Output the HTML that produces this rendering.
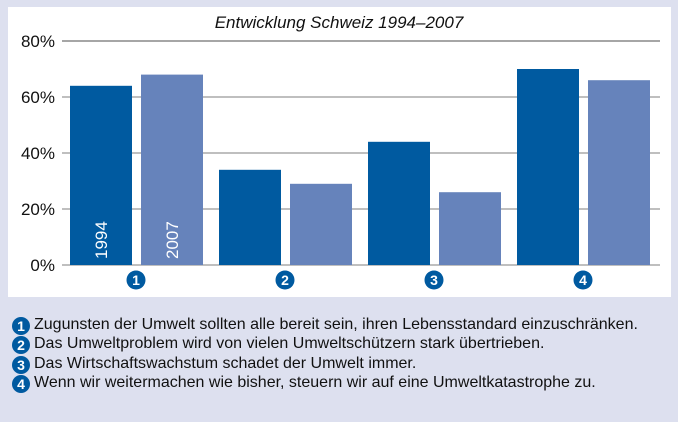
<!DOCTYPE html>
<html><head><meta charset="utf-8"><style>
body{margin:0;width:678px;height:422px;background:#dde0ef;font-family:"Liberation Sans",sans-serif;overflow:hidden;position:relative}
#panel{position:absolute;left:8px;top:7px;width:663px;height:290px;background:#fff}
.leg{position:absolute;left:12px;font-size:16px;color:#111;white-space:nowrap;letter-spacing:0px}
.num{display:inline-block;width:18px;height:18px;border-radius:50%;background:#005aa0;color:#fff;font-weight:bold;font-size:14px;line-height:18px;text-align:center;vertical-align:-2px;margin-right:4px}
</style></head><body>
<div id="panel"></div>
<svg id="chart" width="678" height="300" style="position:absolute;left:0;top:0"></svg>
<div class="leg" style="top:316px"><span class="num">1</span>Zugunsten der Umwelt sollten alle bereit sein, ihren Lebensstandard einzuschränken.</div>
<div class="leg" style="top:335px"><span class="num">2</span>Das Umweltproblem wird von vielen Umweltschützern stark übertrieben.</div>
<div class="leg" style="top:355px"><span class="num">3</span>Das Wirtschaftswachstum schadet der Umwelt immer.</div>
<div class="leg" style="top:374px"><span class="num">4</span>Wenn wir weitermachen wie bisher, steuern wir auf eine Umweltkatastrophe zu.</div>
<script>
const categories=["1","2","3","4"];
const values1994=[64,34,44,70];
const values2007=[68,29,26,66];
const yTicks=[0,20,40,60,80];
const ns="http://www.w3.org/2000/svg";
const svg=document.getElementById('chart');
const y=v=>265-v*2.8;
const gx=i=>70+i*149;
function mk(t,a,txt){const e=document.createElementNS(ns,t);for(const k in a)e.setAttribute(k,a[k]);if(txt!=null)e.textContent=txt;svg.appendChild(e);return e;}
let t=mk('text',{x:339,y:28,'text-anchor':'middle','font-size':17,'font-style':'italic',fill:'#111'},'Entwicklung Schweiz 1994–2007');


yTicks.forEach(v=>{
  let l=mk('line',{x1:62,x2:660,y1:y(v),y2:y(v),stroke:v==80?'#888':'#aaa','stroke-width':1.5});
  
  
  let tx=mk('text',{x:55,y:y(v)+6,'text-anchor':'end','font-size':17,fill:'#111'},v+'%');
  
  
});
categories.forEach((c,i)=>{
  let b1=mk('rect',{x:gx(i),y:y(values1994[i]),width:62,height:265-y(values1994[i]),fill:'#005aa0'});
  
  
  let b2=mk('rect',{x:gx(i)+71,y:y(values2007[i]),width:62,height:265-y(values2007[i]),fill:'#6683bb'});
  
  
  let cx=gx(i)+66;
  let ci=mk('circle',{cx:cx,cy:280,r:9.5,fill:'#005aa0'});
  
  
  let ct=mk('text',{x:cx,y:285,'text-anchor':'middle','font-size':14,'font-weight':'bold',fill:'#fff'},c);
  
  
});
[['1994',gx(0)+31],['2007',gx(0)+102]].forEach(([s,x])=>{
  let e=mk('text',{x:0,y:0,'font-size':17,fill:'#fff',transform:`translate(${x+6},259) rotate(-90)`},s);
  
  
});
</script>
</body></html>
